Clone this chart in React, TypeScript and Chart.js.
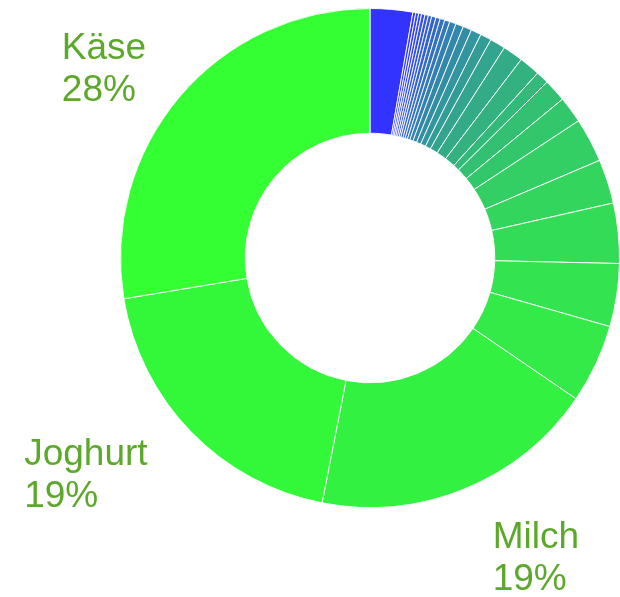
import React, { useEffect, useRef } from "react";
import { Chart, registerables } from "chart.js";

Chart.register(...registerables);

const categories: string[] = [
  "Eiscreme", "Ayran", "Ghee", "Kondensmilch", "Milchpulver", "Dickmilch",
  "Molke", "Kefir", "Skyr", "Ricotta", "Mascarpone", "Hüttenkäse",
  "Crème fraîche", "Schmand", "Sauerrahm", "Milchreis", "Pudding", "Kakao",
  "Buttermilch", "Feta", "Mozzarella", "Frischkäse", "Schlagsahne", "Kaffeesahne",
  "Quark", "Sahne", "Butter", "Milch", "Joghurt", "Käse",
];

const values: number[] = [
  27.5, 1.9, 1.9, 1.9, 2.2, 2.2,
  2.2, 2.8, 2.8, 3.1, 3.3, 4.2,
  5.0, 5.6, 6.7, 7.2, 10.0, 13.1,
  13.6, 8.3, 14.7, 17.2, 28.6, 28.6,
  38.9, 40.8, 51.1, 185.3, 193.1, 276.1,
];

const START_RGB = [51, 51, 255];
const END_RGB = [51, 255, 51];
const LABEL_COLOR = "#5ca82a";
const LABEL_FONT = '37px "Liberation Sans", Arial, sans-serif';

function colorAt(i: number, n: number): string {
  const t = n > 1 ? i / (n - 1) : 0;
  const c = START_RGB.map((s, k) => Math.round(s + (END_RGB[k] - s) * t));
  return `rgb(${c[0]},${c[1]},${c[2]})`;
}

const outerLabels = {
  id: "outerLabels",
  afterDatasetsDraw(chart: any) {
    const ctx = chart.ctx as CanvasRenderingContext2D;
    const meta = chart.getDatasetMeta(0);
    const total = values.reduce((a, b) => a + b, 0);
    ctx.save();
    ctx.font = LABEL_FONT;
    ctx.fillStyle = LABEL_COLOR;
    ctx.textBaseline = "middle";
    ctx.textAlign = "left";
    meta.data.forEach((arc: any, i: number) => {
      const pct = (values[i] / total) * 100;
      if (pct < 10) return;
      const p = arc.getProps(["x", "y", "startAngle", "endAngle", "outerRadius"], true);
      const mid = (p.startAngle + p.endAngle) / 2;
      const deg = ((mid + Math.PI / 2) * 180) / Math.PI;
      const d = p.outerRadius + 44 + 0.197 * (310 - deg);
      const px = p.x + Math.cos(mid) * d;
      const py = p.y + Math.sin(mid) * d + 1.5;
      const lines = [categories[i], Math.round(pct) + "%"];
      const w = Math.max(...lines.map((l) => ctx.measureText(l).width));
      const left = Math.cos(mid) < 0 ? px - w : px;
      const lh = 42;
      lines.forEach((l, k) => {
        ctx.fillText(l, left, py + (k - (lines.length - 1) / 2) * lh);
      });
    });
    ctx.restore();
  },
};

export default function App() {
  const ref = useRef<HTMLCanvasElement | null>(null);

  useEffect(() => {
    if (!ref.current) return;
    const chart = new Chart(ref.current, {
      type: "doughnut",
      data: {
        labels: categories,
        datasets: [
          {
            data: values,
            backgroundColor: values.map((_, i) => colorAt(i, values.length)),
            borderColor: "rgba(255,255,255,0.9)",
            borderWidth: 1,
          },
        ],
      },
      options: {
        responsive: false,
        animation: false,
        cutout: "50%",
        layout: { padding: { left: 120, right: 0, top: 8, bottom: 89 } },
        plugins: {
          legend: { display: false },
          tooltip: { enabled: false },
        },
      },
      plugins: [outerLabels],
    });
    return () => chart.destroy();
  }, []);

  return (
    <div style={{ position: "absolute", left: 0, top: 0, width: 620, height: 597, background: "#fff" }}>
      <canvas ref={ref} width={620} height={597} style={{ display: "block" }} />
    </div>
  );
}
